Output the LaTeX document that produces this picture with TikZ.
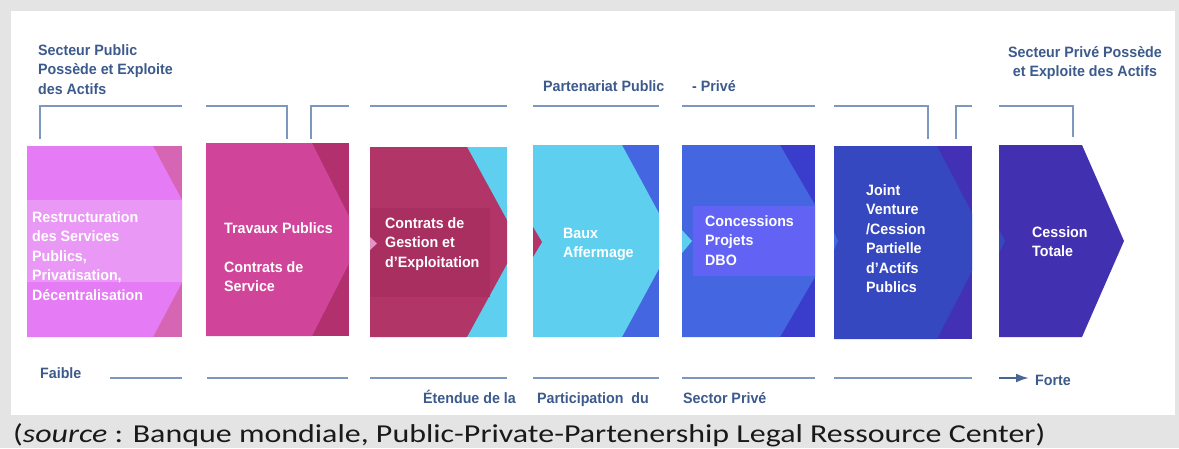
\documentclass[tikz,border=0pt]{standalone}
\usepackage{fontspec}
\usepackage{graphicx}
\usepackage{tikz}
\usetikzlibrary{arrows.meta}

\newfontfamily\diagfont{Liberation Sans}[FakeStretch=0.95]
\newfontfamily\capfont{Carlito}

\definecolor{pagegray}{RGB}{228,228,228}
\definecolor{guideblue}{RGB}{124,152,190}
\definecolor{labelblue}{RGB}{60,90,140}
\definecolor{lilac}{RGB}{229,123,245}
\definecolor{lilacband}{RGB}{234,152,246}
\definecolor{lilacdark}{RGB}{214,102,180}
\definecolor{rose}{RGB}{208,68,154}
\definecolor{rosedark}{RGB}{178,48,110}
\definecolor{crimson}{RGB}{178,53,103}
\definecolor{crimsonband}{RGB}{168,47,96}
\definecolor{sky}{RGB}{95,207,239}
\definecolor{royal}{RGB}{68,102,224}
\definecolor{royalband}{RGB}{98,98,245}
\definecolor{indigo}{RGB}{58,60,203}
\definecolor{navy}{RGB}{53,72,192}
\definecolor{violet}{RGB}{66,49,181}
\definecolor{violetend}{RGB}{65,49,176}

\begin{document}
\begin{tikzpicture}[x=1pt,y=-1pt,
    guide/.style={draw=guideblue,line width=2.2pt},
    headlabel/.style={text=labelblue,font=\diagfont\bfseries\fontsize{15}{19.5}\selectfont,inner sep=0pt,anchor=base west,align=left},
    stagetext/.style={text=white,font=\diagfont\bfseries\fontsize{15}{19.5}\selectfont,inner sep=0pt,anchor=base west,align=left}]

  \useasboundingbox (0,0) rectangle (1179,448);
  \fill [pagegray] (0,0) rectangle (1179,448);
  \fill [white] (11,11) rectangle (1175,415);

  \begin{scope}
    \clip (27,146) rectangle (182,337);
    \fill [lilacdark] (27,146) rectangle (182,337);
    \fill [lilac] (27,146) -- (153,146) -- (204,241) -- (153,337) -- (27,337) -- cycle;
    \fill [lilacband] (27,200) rectangle (182,282);
  \end{scope}

  \begin{scope}
    \clip (206,143) rectangle (349,336);
    \fill [rosedark] (206,143) rectangle (349,336);
    \fill [rose] (206,143) -- (312,143) -- (361,240) -- (312,336) -- (206,336) -- cycle;
  \end{scope}

  \begin{scope}
    \clip (370,147) rectangle (507,337);
    \fill [sky] (370,147) rectangle (507,337);
    \fill [crimson] (370,147) -- (467,147) -- (519,242) -- (467,337) -- (370,337) -- cycle;
    \fill [crimsonband] (370,208) rectangle (490,297);
    \fill [lilacdark!70!white] (370,237) -- (377,243.5) -- (370,250) -- cycle;
  \end{scope}

  \begin{scope}
    \clip (533,145) rectangle (659,337);
    \fill [royal] (533,145) rectangle (659,337);
    \fill [sky] (533,145) -- (622,145) -- (674,241) -- (622,337) -- (533,337) -- cycle;
    \fill [crimson] (533,227) -- (542,242) -- (533,257) -- cycle;
  \end{scope}

  \begin{scope}
    \clip (682,145) rectangle (815,337);
    \fill [indigo] (682,145) rectangle (815,337);
    \fill [royal] (682,145) -- (780,145) -- (836,241) -- (780,337) -- (682,337) -- cycle;
    \fill [royalband] (693,206) rectangle (815,276);
    \fill [sky] (682,230) -- (692,241) -- (682,253) -- cycle;
  \end{scope}

  \begin{scope}
    \clip (834,146) rectangle (972,339);
    \fill [violet] (834,146) rectangle (972,339);
    \fill [navy] (834,146) -- (937,146) -- (987,242) -- (937,339) -- (834,339) -- cycle;
    \fill [royal] (834,232) -- (838,241) -- (834,250) -- cycle;
  \end{scope}

  \fill [violetend] (999,145) -- (1082,145) -- (1124,241) -- (1082,337) -- (999,337) -- cycle;
  \fill [navy] (999,230) -- (1005,241) -- (999,253) -- cycle;

  \path [guide]
    (40,139) -- (40,106) -- (182,106)
    (206,106) -- (287,106) -- (287,139)
    (311,139) -- (311,106) -- (349,106)
    (370,106) -- (507,106)
    (533,106) -- (659,106)
    (682,106) -- (815,106)
    (834,106) -- (928,106) -- (928,139)
    (956,139) -- (956,106) -- (972,106)
    (999,106) -- (1073,106) -- (1073,137);

  \path [guide]
    (110,378) -- (182,378)
    (207,378) -- (348,378)
    (370,378) -- (507,378)
    (533,378) -- (659,378)
    (682,378) -- (815,378)
    (834,378) -- (972,378);

  \node [headlabel] (pubown) at (38,94) {Secteur Public\\Possède et Exploite\\des Actifs};
  \node [headlabel] (ppp) at (543,91) {Partenariat Public};
  \node [headlabel] (pppend) at (692,91) {- Privé};
  \node [headlabel,anchor=base,align=center] (privown) at (1085,76.5) {Secteur Privé Possède\\et Exploite des Actifs};

  \node [stagetext] (restr) at (32,300) {Restructuration\\des Services\\Publics,\\Privatisation,\\Décentralisation};
  \node [stagetext] (travaux) at (224,291.5) {Travaux Publics\\[19.5pt]Contrats de\\Service};
  \node [stagetext] (gestion) at (385,267) {Contrats de\\Gestion et\\d’Exploitation};
  \node [stagetext] (baux) at (563,257.5) {Baux\\Affermage};
  \node [stagetext] (concess) at (705,265) {Concessions\\Projets\\DBO};
  \node [stagetext] (joint) at (866,292.5) {Joint\\Venture\\/Cession\\Partielle\\d’Actifs\\Publics};
  \node [stagetext] (cession) at (1032,256.5) {Cession\\Totale};

  \node [headlabel] (faible) at (40,378) {Faible};
  \node [headlabel] (etendue) at (423,403) {Étendue de la};
  \node [headlabel] (particip) at (537,403) {Participation~~du};
  \node [headlabel] (sector) at (683,403) {Sector Privé};
  \node [headlabel] (forte) at (1035,385) {Forte};

  \coordinate (arrowstart) at (999,378);
  \draw [guide,draw=labelblue!80!guideblue,-{Latex[length=13pt,width=9pt]},shorten >=6pt] (arrowstart) -- (arrowstart -| forte.west);

  \node [anchor=base west,inner sep=0pt,text=black!90] (caption) at (13,442)
    {\capfont\fontsize{25.8}{30}\selectfont\resizebox{1032pt}{\height}{(\textit{source} : Banque mondiale, Public-Private-Partenership Legal Ressource Center)}};

\end{tikzpicture}
\end{document}
